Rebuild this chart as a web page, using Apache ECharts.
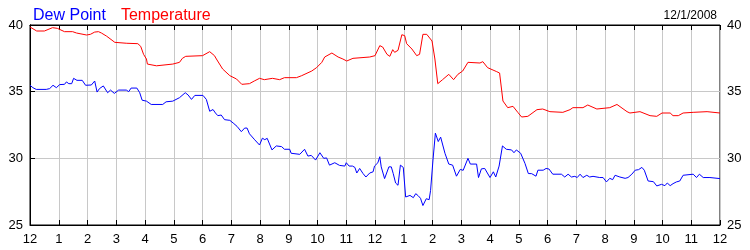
<!DOCTYPE html>
<html><head><meta charset="utf-8">
<script src="https://cdn.jsdelivr.net/npm/echarts@6/dist/echarts.min.js"></script>
<style>html,body{margin:0;padding:0;background:#fff}#c{width:750px;height:250px}</style>
</head><body><div id="c"></div>
<script>
// minutes after midnight, 12/1/2008
const tempMinutes = [0,14,30,47,57,72,89,97,118,126,135,143,149,160,177,202,225,231,237,243,245,264,266,298,312,318,325,360,375,385,389,402,417,431,442,458,468,479,489,506,521,531,556,567,588,598,609,615,630,643,653,661,674,709,720,730,736,745,751,757,761,768,776,782,786,797,807,813,820,828,839,845,851,861,874,884,893,903,914,939,945,955,974,980,987,997,1008,1018,1026,1039,1058,1070,1085,1112,1127,1133,1154,1164,1183,1210,1225,1246,1252,1273,1294,1308,1319,1336,1342,1353,1363,1384,1413,1440];
const tempValues = [39.85,39.55,39.55,39.8,39.75,39.5,39.5,39.4,39.25,39.3,39.47,39.5,39.4,39.16,38.7,38.63,38.6,38.4,37.8,37.45,37.07,36.94,37.05,37.07,37.2,37.5,37.65,37.7,38.0,37.7,37.45,36.7,36.2,35.95,35.55,35.6,35.8,36.0,35.9,36.0,35.9,36.05,36.05,36.2,36.55,36.8,37.2,37.6,37.9,37.6,37.45,37.3,37.5,37.6,37.7,38.45,38.35,37.8,37.65,38.15,37.95,38.1,39.27,39.2,38.6,38.2,37.7,37.8,39.3,39.3,38.8,37.45,35.6,35.9,36.3,35.9,36.3,36.55,37.2,37.15,37.25,36.8,36.5,36.4,34.3,33.8,33.9,33.45,33.1,33.15,33.65,33.7,33.5,33.45,33.65,33.8,33.8,34.0,33.7,33.8,34.04,33.5,33.4,33.5,33.2,33.15,33.4,33.4,33.2,33.2,33.4,33.45,33.5,33.4];
const dewMinutes = [0,6,13,34,41,48,55,62,72,76,81,87,91,98,109,116,128,135,140,145,153,162,168,176,185,201,206,211,223,229,234,243,253,277,284,298,312,324,330,337,344,361,368,375,382,387,392,399,406,417,424,432,441,448,453,458,469,479,485,490,495,505,514,525,531,542,545,563,573,580,587,596,605,613,619,625,636,646,657,660,666,673,678,682,688,695,701,709,716,719,723,726,730,733,740,749,754,758,763,768,773,779,784,793,800,805,810,815,820,827,833,836,841,846,852,857,866,874,882,890,898,904,914,919,932,936,942,949,960,967,972,979,986,994,1005,1010,1015,1024,1033,1040,1047,1056,1060,1071,1077,1083,1091,1109,1116,1123,1130,1137,1142,1148,1154,1162,1168,1175,1189,1196,1203,1210,1216,1221,1231,1242,1248,1256,1263,1270,1277,1282,1290,1301,1308,1318,1325,1330,1336,1342,1349,1356,1363,1384,1391,1397,1405,1419,1440];
const dewValues = [35.48,35.3,35.17,35.17,35.23,35.48,35.3,35.53,35.55,35.73,35.6,35.6,36.0,35.85,35.85,35.48,35.5,35.8,34.97,35.23,35.43,34.92,35.12,34.87,35.12,35.12,35.0,35.27,35.27,34.92,34.36,34.29,34.04,34.04,34.24,34.29,34.55,34.92,34.75,34.42,34.72,34.72,34.42,33.53,33.66,33.4,33.2,33.25,32.9,32.85,32.65,32.4,32.0,32.27,32.27,31.84,31.39,31.0,31.51,31.4,31.5,30.63,30.93,30.88,30.68,30.68,30.38,30.3,30.68,30.17,30.22,29.87,30.42,30.0,30.03,29.49,29.67,29.47,29.42,29.67,29.42,29.42,29.32,28.9,29.24,28.86,28.6,28.9,28.99,29.42,29.35,29.67,30.12,29.36,28.48,29.36,29.36,28.86,28.15,27.98,29.49,29.32,27.1,27.22,27.05,27.35,27.2,27.0,26.46,26.97,26.9,27.6,29.87,31.89,31.26,31.59,30.38,29.57,29.49,28.66,29.17,29.1,30.0,29.57,29.57,28.56,29.21,29.24,28.56,28.99,28.6,29.42,30.93,30.68,30.63,30.42,30.63,30.38,29.62,28.86,28.85,28.66,29.11,29.11,29.24,29.2,28.81,28.81,28.6,28.81,28.6,28.65,28.56,28.81,28.56,28.73,28.6,28.65,28.56,28.56,28.23,28.5,28.4,28.73,28.6,28.5,28.56,28.81,29.11,29.15,29.32,29.11,28.3,28.25,27.93,28.05,27.95,28.15,27.95,28.1,28.23,28.3,28.73,28.81,28.56,28.81,28.56,28.56,28.48];
const yTicks = [25, 30, 35, 40];
const dateLabel = '12/1/2008';
const seriesNames = ['Dew Point', 'Temperature'];

const pair = (xs, ys) => xs.map((x, i) => [x, ys[i]]);
const FONT = 'Liberation Sans';
const hourLabel = v => { const h = Math.round(v / 60) % 12; return String(h === 0 ? 12 : h); };

const chart = echarts.init(document.getElementById('c'), null, {renderer: 'canvas'});
const yCommon = {
  type: 'value', min: yTicks[0], max: yTicks[yTicks.length - 1], interval: 5,
  axisLine: {show: true, lineStyle: {color: '#000', width: 1}},
  axisLabel: {color: '#000', fontFamily: FONT, fontSize: 13, margin: 7},
};
chart.setOption({
  animation: false,
  backgroundColor: '#fff',
  textStyle: {fontFamily: FONT},
  title: {text: dateLabel, right: 28, top: 5, textStyle: {fontSize: 12, fontWeight: 'normal', color: '#000', fontFamily: FONT}},
  legend: {
    left: 23, top: 3, icon: 'none', itemWidth: 0, itemHeight: 0, itemGap: 10,
    selectedMode: false,
    textStyle: {fontSize: 16, fontFamily: FONT},
    data: [
      {name: seriesNames[0], textStyle: {color: '#0000ff'}},
      {name: seriesNames[1], textStyle: {color: '#ff0000'}}
    ]
  },
  grid: {left: 30, right: 30, top: 25, bottom: 25, show: true, borderColor: '#000', borderWidth: 1},
  xAxis: [{
    type: 'value', min: 0, max: 1440, interval: 60,
    axisLine: {show: true, lineStyle: {color: '#000'}},
    axisTick: {show: true, inside: true, length: 5, lineStyle: {color: '#000'}},
    axisLabel: {color: '#000', fontFamily: FONT, fontSize: 13, margin: 8, formatter: hourLabel, showMinLabel: true, showMaxLabel: true},
    splitLine: {show: true, lineStyle: {color: '#c8c8c8'}}
  }, {
    type: 'value', min: 0, max: 1440, interval: 60, position: 'top',
    axisLine: {show: true, lineStyle: {color: '#000'}},
    axisTick: {show: true, inside: true, length: 5, lineStyle: {color: '#000'}},
    axisLabel: {show: false}, splitLine: {show: false}
  }],
  yAxis: [Object.assign({}, yCommon, {
    position: 'left',
    axisTick: {show: true, inside: true, length: 5, lineStyle: {color: '#000'}},
    splitLine: {show: true, lineStyle: {color: '#c8c8c8'}}
  }), Object.assign({}, yCommon, {
    position: 'right',
    axisTick: {show: true, inside: false, length: 5, lineStyle: {color: '#000'}},
    splitLine: {show: false}
  })],
  series: [
    {name: seriesNames[0], type: 'line', data: pair(dewMinutes, dewValues), showSymbol: false, symbol: 'none',
     lineStyle: {color: '#0000ff', width: 1}, itemStyle: {color: '#0000ff'}},
    {name: seriesNames[1], type: 'line', data: pair(tempMinutes, tempValues), showSymbol: false, symbol: 'none',
     lineStyle: {color: '#ff0000', width: 1}, itemStyle: {color: '#ff0000'}}
  ]
});
</script></body></html>
